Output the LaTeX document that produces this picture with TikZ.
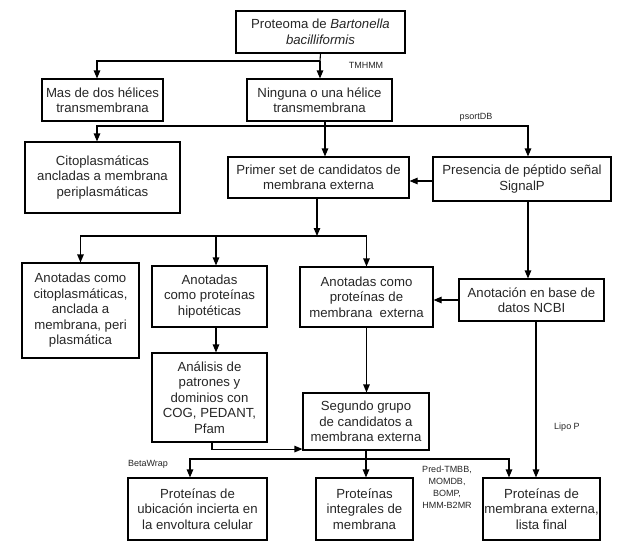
\documentclass[tikz,border=0pt]{standalone}
\usepackage{fontspec}
\setmainfont{Liberation Sans}
\usetikzlibrary{arrows.meta}

\tikzset{caja/.style n args = {2}{draw, line width=1.1pt, align=center, inner sep=0pt,
                                  minimum width=#1, minimum height=#2,
                                  font=\fontsize{13.2}{15.5}\selectfont, text=black!85},
         etiqueta/.style = {inner sep=0pt, align=center, font=\fontsize{9}{12}\selectfont, text=black!85},
         flecha/.style = {line width=1.1pt, -{Triangle[length=8pt,width=6.5pt]}},
         linea/.style = {line width=1.1pt}
        }

\begin{document}
\begin{tikzpicture}[x=1pt,y=-1pt]
  \useasboundingbox (0,0) rectangle (630,549);
  % cajas
  \node[caja={169pt}{42pt}] (proteoma) at (320.5,32) {Proteoma de \textit{Bartonella}\\ \textit{bacilliformis}};
  \node[caja={121pt}{42pt}] (mas) at (102.5,100) {Mas de dos hélices\\transmembrana};
  \node[caja={145pt}{42pt}] (ninguna) at (319.5,100) {Ninguna o una hélice\\transmembrana};
  \node[caja={155pt}{71pt}] (cito) at (102.5,177.5) {Citoplasmáticas\\ancladas a membrana\\periplasmáticas};
  \node[caja={181pt}{41pt}] (primer) at (318.5,177.5) {Primer set de candidatos de\\membrana externa};
  \node[caja={178pt}{44pt}] (presencia) at (522,179) {Presencia de péptido señal\\SignalP};
  \node[caja={117pt}{95pt}] (anocito) at (80.5,310.5) {Anotadas como\\citoplasmáticas,\\anclada a\\membrana, peri\\plasmática};
  \node[caja={115pt}{61pt}] (hipot) at (209.5,296.5) {Anotadas\\como proteínas\\hipotéticas};
  \node[caja={133pt}{60pt}] (anomemb) at (366.5,297) {Anotadas como\\proteínas de\\membrana~~externa};
  \node[caja={145pt}{42pt}] (ncbi) at (531.5,300) {Anotación en base de\\datos NCBI};
  \node[caja={115pt}{89pt}] (analisis) at (209.5,397.5) {Análisis de\\patrones y\\dominios con\\COG, PEDANT,\\Pfam};
  \node[caja={126pt}{57pt}] (segundo) at (366,421.5) {Segundo grupo\\de candidatos a\\membrana externa};
  \node[caja={139pt}{62pt}] (ubicacion) at (197.5,509) {Proteínas de\\ubicación incierta en\\la envoltura celular};
  \node[caja={97pt}{62pt}] (integrales) at (364.5,509) {Proteínas\\integrales de\\membrana};
  \node[caja={117pt}{62pt}] (final) at (541.5,509) {Proteínas de\\membrana externa,\\lista final};
  % etiquetas
  \node[etiqueta] (tmhmm) at (366,65) {TMHMM};
  \node[etiqueta] (psortdb) at (476,117) {psortDB};
  \node[etiqueta] (betawrap) at (148,464) {BetaWrap};
  \node[etiqueta] (predtmbb) at (447,487) {Pred-TMBB,\\MOMDB,\\BOMP,\\HMM-B2MR};
  \node[etiqueta] (lipop) at (567,427) {Lipo P};
  % puntos de union
  \coordinate (u1) at (320,61);
  \coordinate (u2) at (325,126);
  \coordinate (u3) at (317,236);
  \coordinate (u4) at (366,459);
  % conexiones
  \draw[linea] (proteoma.south) -- (u1);
  \draw[flecha] (u1) -| ([xshift=-5.5pt]mas.north);
  \draw[flecha] (u1) -- (u1 |- ninguna.north);
  \draw[linea] ([xshift=5.5pt]ninguna.south) -- (u2);
  \draw[flecha] (u2) -| ([xshift=-5.5pt]cito.north);
  \draw[flecha] (u2) -- (u2 |- primer.north);
  \draw[flecha] (u2) -| ([xshift=6pt]presencia.north);
  \draw[flecha] ([yshift=-2pt]presencia.west) -- ([yshift=-2pt]presencia.west -| primer.east);
  \draw[flecha] (primer.south -| u3) -- (u3);
  \draw[flecha] (u3) -| (anocito.north);
  \draw[flecha] (u3) -| ([xshift=6.5pt]hipot.north);
  \draw[flecha] (u3) -| (anomemb.north);
  \draw[flecha] ([xshift=6pt]presencia.south) -- ([xshift=6pt]presencia.south |- ncbi.north);
  \draw[flecha] (ncbi.west) -- (ncbi.west -| anomemb.east);
  \draw[flecha] ([xshift=6.5pt]hipot.south) -- ([xshift=6.5pt]hipot.south |- analisis.north);
  \draw[flecha] (anomemb.south) -- (anomemb.south |- segundo.north);
  \draw[flecha] ([xshift=2.5pt]analisis.south) |- ([yshift=1.5pt]segundo.south west);
  \draw[linea] (segundo.south) -- (u4);
  \draw[flecha] (u4) -| ([xshift=-7.5pt]ubicacion.north);
  \draw[flecha] (u4) -- (u4 |- integrales.north);
  \draw[flecha] (u4) -| ([xshift=-32.5pt]final.north);
  \draw[flecha] ([xshift=4.5pt]ncbi.south) -- ([xshift=4.5pt]ncbi.south |- final.north);
\end{tikzpicture}
\end{document}
